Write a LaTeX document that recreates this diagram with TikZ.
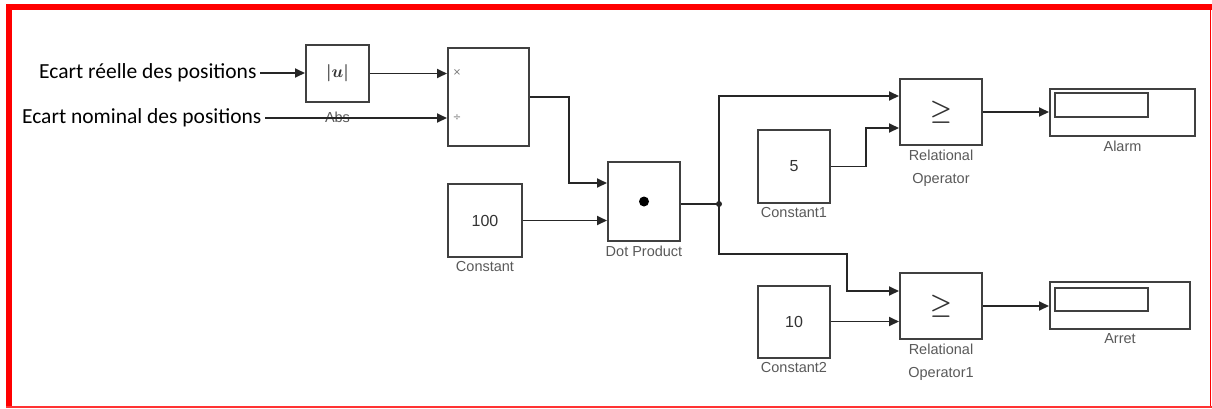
\documentclass[tikz,border=0pt]{standalone}
\usepackage{fontspec}
\setmainfont{Liberation Sans}
\newfontfamily\calibrifont{Carlito}
\newfontfamily\symbfont{DejaVu Sans}
\usetikzlibrary{arrows.meta,calc}

\begin{document}
\begin{tikzpicture}[x=1pt,y=-1pt,
block/.style={draw=black!75, line width=2pt, fill=white, inner sep=0pt,
  text=black!80, font=\fontsize{16}{16}\selectfont, label distance=3pt},
lbl/.style={text=black!65, font=\fontsize{14.5}{23}\selectfont, align=center},
wire/.style={draw=black!85, line width=1.8pt},
sig/.style={wire, -{Triangle[length=10pt,width=9pt]}},
port/.style={text=black!55, font=\symbfont\fontsize{10}{10}\selectfont, inner sep=0pt},
rel/.style={block, minimum width=82pt, minimum height=66pt,
  font=\fontsize{24}{24}\selectfont\boldmath},
const/.style={block, minimum width=73pt, minimum height=73pt},
display/.style={block, minimum height=47pt},
win/.style={draw=black!75, line width=1.6pt, minimum width=93pt, inner sep=0pt}
]
\useasboundingbox (0,0) rectangle (1212,408);

% cadre rouge
\fill[red] (6,4) rectangle (1212,10);
\fill[red] (6,4) rectangle (12,408);
\draw[red, line width=1.5pt] (1210.5,4) -- (1210.5,408);
\draw[red!80, line width=1.5pt] (6,407.2) -- (1212,407.2);

% entrees
\node[font=\calibrifont\fontsize{21.5}{24}\selectfont, anchor=east] (in1) at (260,73) {Ecart réelle des positions};
\node[font=\calibrifont\fontsize{21.5}{24}\selectfont, anchor=east] (in2) at (265,118) {Ecart nominal des positions};

% blocs
\node[block, minimum width=63pt, minimum height=57pt, font=\fontsize{16}{16}\selectfont\boldmath, label={[lbl, label distance=5pt]below:Abs}] (abs) at (337.5,73.5) {$|u|$};
\node[block, minimum width=81pt, minimum height=98pt] (prod) at (488.5,97) {};
\node[port] (px) at ($(prod.west)+(10,-24)$) {×};
\node[port] (pdiv) at ($(prod.west)+(10,21)$) {÷};
\node[const, minimum width=74pt, label={[lbl]below:Constant}] (cst) at (485,220.5) {100};
\node[block, minimum width=72pt, minimum height=79pt, label={[lbl]below:Dot Product}] (dot) at (644,201.5) {};
\fill[black] (dot.center) circle (5pt);
\coordinate (j) at ($(dot.east)+(38,2.5)$);

\node[const, minimum width=72pt, label={[lbl]below:Constant1}] (c1) at (794,166.5) {5};
\node[rel, label={[lbl]below:Relational\\Operator}] (rop) at (941,112) {$\geq$};
\node[const, minimum width=72pt, minimum height=72pt, label={[lbl]below:Constant2}] (c2) at (794,321.5) {10};
\node[rel, label={[lbl]below:Relational\\Operator1}] (rop1) at (941,306) {$\geq$};

\node[display, minimum width=145pt, label={[lbl]below:Alarm}] (alarm) at (1122.5,112.5) {};
\node[win, minimum height=24pt] (alarmwin) at (1101.5,105) {};
\node[display, minimum width=140pt, label={[lbl]below:Arret}] (arret) at (1120,305.5) {};
\node[win, minimum height=23pt] (arretwin) at (1101.5,299.5) {};

% liaisons
\draw[sig] (in1) -- (abs.west |- in1);
\draw[sig] (abs.east) -- (abs.east -| prod.west);
\draw[sig] (in2) -- (in2 -| prod.west);
\draw[sig] (prod.east) -- ++(39,0) |- ($(dot.west)+(0,-18.5)$);
\draw[sig] (cst.east) -- (cst.east -| dot.west);
\draw[wire] (dot.east |- j) -- (j);
\fill[black!85] (j) circle (3pt);
\draw[sig] (j) |- ($(rop.west)+(0,-16)$);
\draw[sig] (c1.east) -- ++(35,0) |- ($(rop.west)+(0,16)$);
\draw[sig] (j) -- ++(0,50) -| ($(rop1.west)+(-52,-15)$) -- ($(rop1.west)+(0,-15)$);
\draw[sig] (c2.east) -- (c2.east -| rop1.west);
\draw[sig] (rop.east) -- (rop.east -| alarm.west);
\draw[sig] (rop1.east) -- (rop1.east -| arret.west);
\end{tikzpicture}
\end{document}
